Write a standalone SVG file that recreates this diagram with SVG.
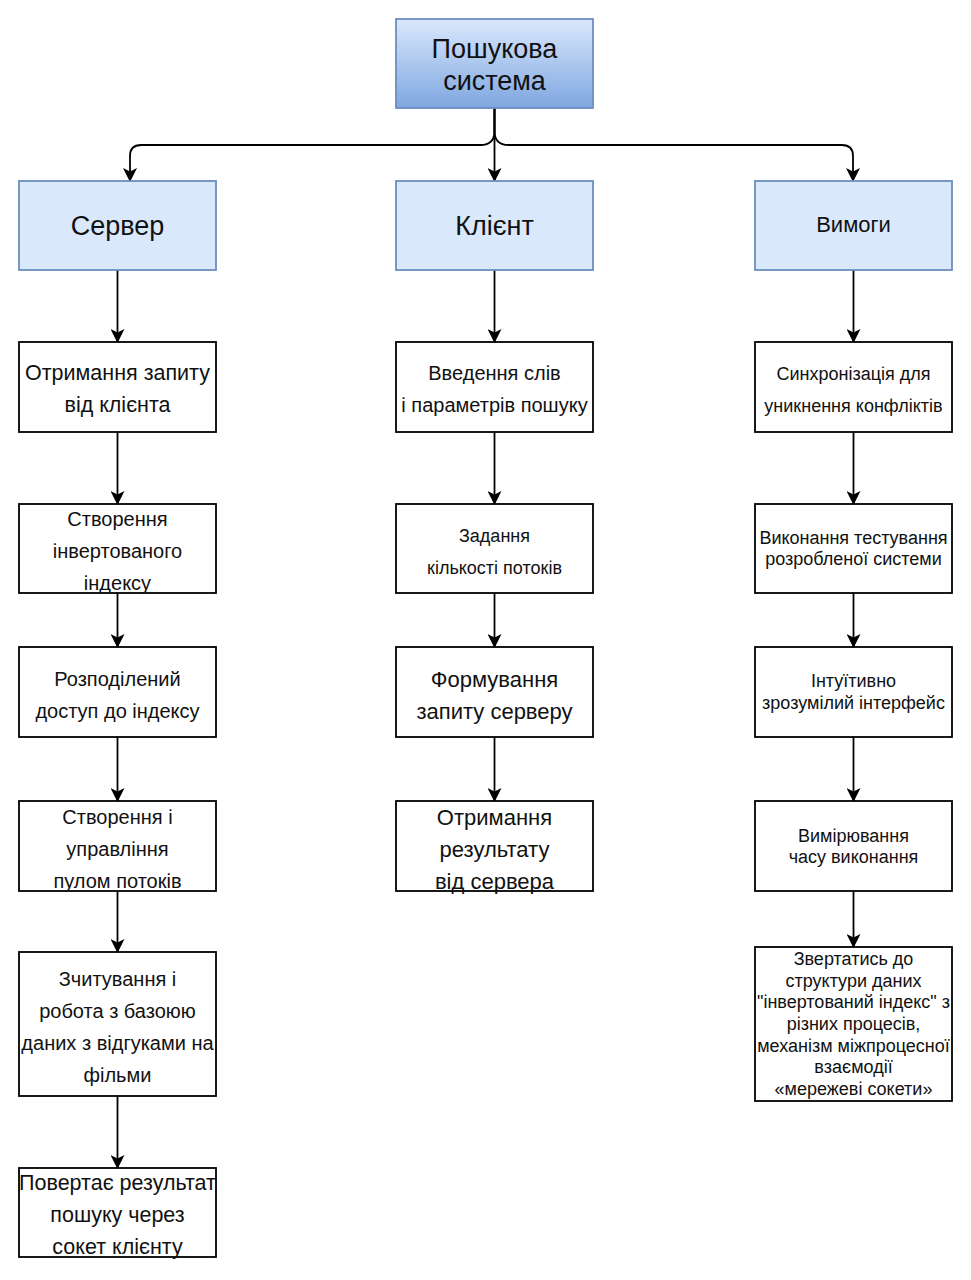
<svg xmlns="http://www.w3.org/2000/svg" width="971" height="1280" viewBox="0 0 971 1280">
  <style>
    text { font-family: "Liberation Sans", Arial, sans-serif; fill: #111; text-anchor: middle; dominant-baseline: central; }
    .box { fill: #ffffff; stroke: #000; stroke-width: 1.8; }
    .head { fill: #dae8fc; stroke: #6c8ebf; stroke-width: 1.8; }
    .root { fill: url(#rootFill); stroke: #6c8ebf; stroke-width: 1.8; }
    .edge { fill: none; stroke: #000; stroke-width: 1.8; marker-end: url(#arrow); }
  </style>
  <defs>
    <linearGradient id="rootFill" x1="0" y1="0" x2="0" y2="1">
      <stop offset="0" stop-color="#dae8fc"/>
      <stop offset="1" stop-color="#7ea6e0"/>
    </linearGradient>
    <marker id="arrow" viewBox="0 0 14 14" refX="13" refY="7" markerWidth="14" markerHeight="14" markerUnits="userSpaceOnUse" orient="auto">
      <path d="M0,0 L14,7 L0,14 L3.5,7 Z" fill="#000"/>
    </marker>
  </defs>

  <!-- connectors -->
  <g id="connectors">
    <path class="edge" d="M494.5,108 L494.5,181"/>
    <path class="edge" d="M494.5,108 L494.5,131 Q494.5,145 480.5,145 L141,145 Q130,145 130,156 L130,181"/>
    <path class="edge" d="M494.5,108 L494.5,131 Q494.5,145 508.5,145 L842,145 Q853,145 853,156 L853,181"/>

    <path class="edge" d="M117.5,270 L117.5,342"/>
    <path class="edge" d="M117.5,432 L117.5,504"/>
    <path class="edge" d="M117.5,593 L117.5,647"/>
    <path class="edge" d="M117.5,737 L117.5,801"/>
    <path class="edge" d="M117.5,891 L117.5,952"/>
    <path class="edge" d="M117.5,1096 L117.5,1168"/>

    <path class="edge" d="M494.5,270 L494.5,342"/>
    <path class="edge" d="M494.5,432 L494.5,504"/>
    <path class="edge" d="M494.5,593 L494.5,647"/>
    <path class="edge" d="M494.5,737 L494.5,801"/>

    <path class="edge" d="M853.5,270 L853.5,342"/>
    <path class="edge" d="M853.5,432 L853.5,504"/>
    <path class="edge" d="M853.5,593 L853.5,647"/>
    <path class="edge" d="M853.5,737 L853.5,801"/>
    <path class="edge" d="M853.5,891 L853.5,947"/>
  </g>

  <!-- root -->
  <g id="root">
    <rect class="root" x="396" y="19" width="197" height="89"/>
    <text x="494.5" y="49" font-size="27">Пошукова</text>
    <text x="494.5" y="81" font-size="27">система</text>
  </g>

  <!-- second level -->
  <g id="server">
    <rect class="head" x="19" y="181" width="197" height="89"/>
    <text x="117.5" y="226" font-size="27">Сервер</text>
  </g>
  <g id="client">
    <rect class="head" x="396" y="181" width="197" height="89"/>
    <text x="494.5" y="226" font-size="27">Клієнт</text>
  </g>
  <g id="requirements">
    <rect class="head" x="755" y="181" width="197" height="89"/>
    <text x="853.5" y="224" font-size="22">Вимоги</text>
  </g>

  <!-- server column -->
  <g id="s1">
    <rect class="box" x="19" y="342" width="197" height="90"/>
    <text x="117.5" y="373" font-size="21.5">Отримання запиту</text>
    <text x="117.5" y="405" font-size="21.5">від клієнта</text>
  </g>
  <g id="s2">
    <rect class="box" x="19" y="504" width="197" height="89"/>
    <text x="117.5" y="519" font-size="20">Створення</text>
    <text x="117.5" y="551" font-size="20">інвертованого</text>
    <text x="117.5" y="583" font-size="20">індексу</text>
  </g>
  <g id="s3">
    <rect class="box" x="19" y="647" width="197" height="90"/>
    <text x="117.5" y="679" font-size="20">Розподілений</text>
    <text x="117.5" y="711" font-size="20">доступ до індексу</text>
  </g>
  <g id="s4">
    <rect class="box" x="19" y="801" width="197" height="90"/>
    <text x="117.5" y="817" font-size="20">Створення і</text>
    <text x="117.5" y="849" font-size="20">управління</text>
    <text x="117.5" y="881" font-size="20">пулом потоків</text>
  </g>
  <g id="s5">
    <rect class="box" x="19" y="952" width="197" height="144"/>
    <text x="117.5" y="979" font-size="20">Зчитування і</text>
    <text x="117.5" y="1011" font-size="20">робота з базоюю</text>
    <text x="117.5" y="1043" font-size="20">даних з відгуками на</text>
    <text x="117.5" y="1075" font-size="20">фільми</text>
  </g>
  <g id="s6">
    <rect class="box" x="19" y="1168" width="197" height="89"/>
    <text x="117.5" y="1183" font-size="21.5">Повертає результат</text>
    <text x="117.5" y="1215" font-size="21.5">пошуку через</text>
    <text x="117.5" y="1247" font-size="21.5">сокет клієнту</text>
  </g>

  <!-- client column -->
  <g id="c1">
    <rect class="box" x="396" y="342" width="197" height="90"/>
    <text x="494.5" y="373" font-size="20">Введення слів</text>
    <text x="494.5" y="405" font-size="20">і параметрів пошуку</text>
  </g>
  <g id="c2">
    <rect class="box" x="396" y="504" width="197" height="89"/>
    <text x="494.5" y="536" font-size="18">Задання</text>
    <text x="494.5" y="568" font-size="18">кількості потоків</text>
  </g>
  <g id="c3">
    <rect class="box" x="396" y="647" width="197" height="90"/>
    <text x="494.5" y="679" font-size="22">Формування</text>
    <text x="494.5" y="711" font-size="22">запиту серверу</text>
  </g>
  <g id="c4">
    <rect class="box" x="396" y="801" width="197" height="90"/>
    <text x="494.5" y="817" font-size="22">Отримання</text>
    <text x="494.5" y="849" font-size="22">результату</text>
    <text x="494.5" y="881" font-size="22">від сервера</text>
  </g>

  <!-- requirements column -->
  <g id="r1">
    <rect class="box" x="755" y="342" width="197" height="90"/>
    <text x="853.5" y="374" font-size="18">Синхронізація для</text>
    <text x="853.5" y="406" font-size="18">уникнення конфліктів</text>
  </g>
  <g id="r2">
    <rect class="box" x="755" y="504" width="197" height="89"/>
    <text x="853.5" y="538" font-size="18">Виконання тестування</text>
    <text x="853.5" y="559" font-size="18">розробленої системи</text>
  </g>
  <g id="r3">
    <rect class="box" x="755" y="647" width="197" height="90"/>
    <text x="853.5" y="681" font-size="18">Інтуїтивно</text>
    <text x="853.5" y="703" font-size="18">зрозумілий інтерфейс</text>
  </g>
  <g id="r4">
    <rect class="box" x="755" y="801" width="197" height="90"/>
    <text x="853.5" y="836" font-size="18">Вимірювання</text>
    <text x="853.5" y="857" font-size="18">часу виконання</text>
  </g>
  <g id="r5">
    <rect class="box" x="755" y="947" width="197" height="154"/>
    <text x="853.5" y="959" font-size="18">Звертатись до</text>
    <text x="853.5" y="981" font-size="18">структури даних</text>
    <text x="853.5" y="1002" font-size="18">"інвертований індекс" з</text>
    <text x="853.5" y="1024" font-size="18">різних процесів,</text>
    <text x="853.5" y="1046" font-size="18">механізм міжпроцесної</text>
    <text x="853.5" y="1067" font-size="18">взаємодії</text>
    <text x="853.5" y="1089" font-size="18">«мережеві сокети»</text>
  </g>
</svg>
